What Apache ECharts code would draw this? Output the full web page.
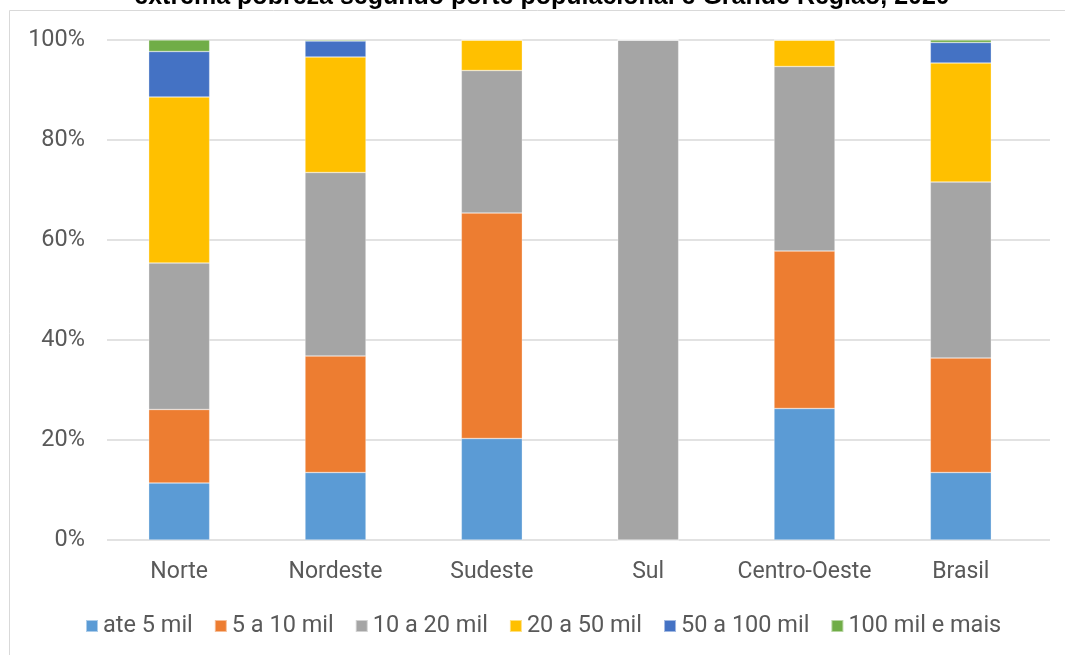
<!DOCTYPE html>
<html>
<head>
<meta charset="utf-8">
<script src="https://cdn.jsdelivr.net/npm/echarts@6/dist/echarts.min.js"></script>
<style>
html,body{margin:0;padding:0;background:#fff;}
#chart{width:1065px;height:655px;}
</style>
</head>
<body>
<div id="chart"></div>
<script>
const titleText = 'extrema pobreza segundo porte populacional e Grande Região, 2020';
const categories = ['Norte', 'Nordeste', 'Sudeste', 'Sul', 'Centro-Oeste', 'Brasil'];
const seriesNames = ['ate 5 mil', '5 a 10 mil', '10 a 20 mil', '20 a 50 mil', '50 a 100 mil', '100 mil e mais'];
const ate5 = [11.4, 13.5, 20.3, 0, 26.3, 13.5];
const de5a10 = [14.7, 23.3, 45.1, 0, 31.5, 22.9];
const de10a20 = [29.3, 36.7, 28.5, 100, 36.9, 35.2];
const de20a50 = [33.2, 23.1, 6.1, 0, 5.3, 23.8];
const de50a100 = [9.1, 3.2, 0, 0, 0, 4.1];
const mais100 = [2.3, 0.2, 0, 0, 0, 0.5];
const yTicks = [0, 20, 40, 60, 80, 100];
const colors = ['#5B9BD5', '#ED7D31', '#A5A5A5', '#FFC000', '#4472C4', '#70AD47'];
const allValues = [ate5, de5a10, de10a20, de20a50, de50a100, mais100];

const font = 'Roboto, "Noto Sans", sans-serif';
const txtColor = '#595959';

const chart = echarts.init(document.getElementById('chart'), null, {renderer: 'canvas'});
chart.setOption({
  animation: false,
  color: colors,
  graphic: [
    {type: 'rect', shape: {x: 9.5, y: 10.5, width: 1200, height: 800},
     style: {fill: 'none', stroke: '#d9d9d9', lineWidth: 1}, z: -10},
    {type: 'text', x: 542, y: 10,
     style: {text: titleText, font: 'bold 25px "Liberation Sans", Arial, sans-serif',
             fill: '#000', align: 'center', verticalAlign: 'bottom'}}
  ],
  legend: {
    data: seriesNames,
    bottom: 12,
    left: 80,
    itemWidth: 12,
    itemHeight: 12,
    itemGap: 21,
    icon: 'rect',
    textStyle: {fontFamily: font, fontSize: 23.5, color: txtColor}
  },
  grid: [
    {left: 101, right: 26, top: 40, height: 500},
    {left: 107, right: 15, top: 40, height: 500}
  ],
  xAxis: [
    {type: 'category', gridIndex: 0, data: categories,
     axisLine: {show: false}, axisTick: {show: false},
     axisLabel: {interval: 0, fontFamily: font, fontSize: 23, color: txtColor, margin: 21}},
    {type: 'value', gridIndex: 1, show: false, min: 0, max: 1}
  ],
  yAxis: [
    {type: 'value', gridIndex: 0, min: 0, max: 100, interval: 20, show: false},
    {type: 'value', gridIndex: 1, min: 0, max: 100, interval: 20,
     axisLine: {show: false}, axisTick: {show: false},
     splitLine: {lineStyle: {color: '#d9d9d9', width: 1.5}},
     axisLabel: {fontFamily: font, fontSize: 23.5, color: txtColor, margin: 22,
                 formatter: v => (yTicks.indexOf(v) >= 0 ? v + '%' : '')}}
  ],
  series: seriesNames.map((name, i) => ({
    name: name,
    type: 'bar',
    stack: 'total',
    xAxisIndex: 0,
    yAxisIndex: 0,
    barWidth: 61,
    data: allValues[i],
    itemStyle: {color: colors[i], borderColor: 'rgba(255,255,255,0.5)', borderWidth: 0.6}
  }))
});
</script>
</body>
</html>
